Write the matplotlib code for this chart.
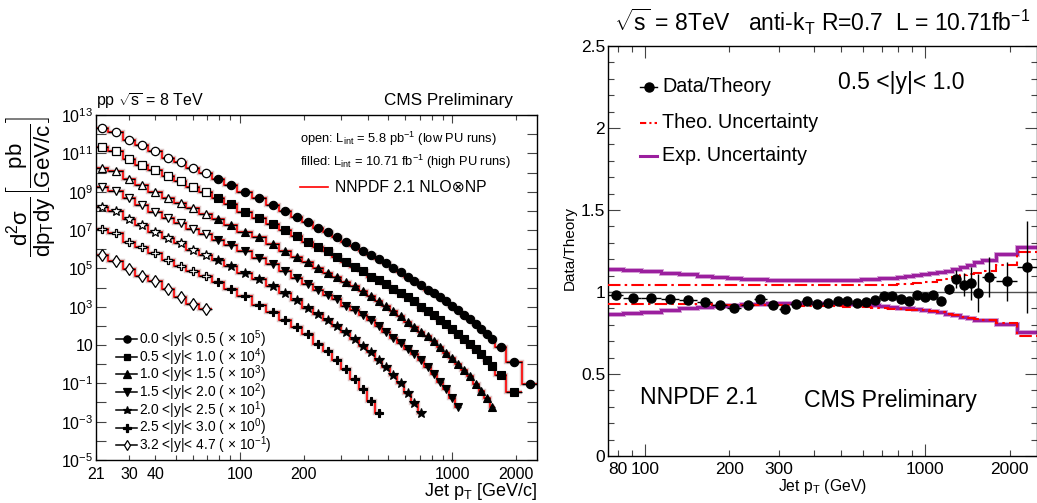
import numpy as np
import matplotlib
matplotlib.use("Agg")
import matplotlib.pyplot as plt
from matplotlib.ticker import FixedLocator, FuncFormatter
from matplotlib.lines import Line2D

plt.rcParams['font.family'] = ['Liberation Sans', 'DejaVu Sans']
plt.rcParams['mathtext.fontset'] = 'custom'
plt.rcParams['mathtext.rm'] = 'Liberation Sans'
plt.rcParams['mathtext.it'] = 'Liberation Sans'
plt.rcParams['mathtext.sf'] = 'Liberation Sans'
plt.rcParams['mathtext.bf'] = 'Liberation Sans:bold'
plt.rcParams['mathtext.default'] = 'regular'

# ---------------- data: left panel (cross sections, pb/(GeV/c), unscaled) ----------------
pt_edges_low = [21, 24, 28, 32, 37, 43, 49, 56, 64, 74]
pt_edges_high = [74, 84, 97, 114, 133, 153, 174, 196, 220, 245, 272, 300, 330, 362, 395, 430,
                 468, 507, 548, 592, 638, 686, 737, 790, 846, 905, 967, 1032, 1101, 1172, 1248,
                 1327, 1410, 1497, 1588, 1784, 2116, 2500]

rap_labels = ["0.0 <|y|< 0.5", "0.5 <|y|< 1.0", "1.0 <|y|< 1.5", "1.5 <|y|< 2.0",
              "2.0 <|y|< 2.5", "2.5 <|y|< 3.0", "3.2 <|y|< 4.7"]
scale_exp = [5, 4, 3, 2, 1, 0, -1]

open_y00 = [2.19e7, 1.26e7, 5.25e6, 2.88e6, 1.29e6, 5.89e5, 3.47e5, 1.78e5, 8.91e4]
open_y05 = [2.19e7, 1.29e7, 4.79e6, 2.40e6, 1.29e6, 6.46e5, 3.55e5, 1.82e5, 9.55e4]
open_y10 = [1.78e7, 1.20e7, 4.37e6, 2.24e6, 1.0e6, 4.90e5, 2.69e5, 1.35e5, 6.61e4]
open_y15 = [1.82e7, 1.10e7, 4.47e6, 2.04e6, 9.12e5, 4.47e5, 2.19e5, 1.10e5, 6.03e4]
open_y20 = [1.62e7, 1.0e7, 3.63e6, 1.86e6, 8.32e5, 3.72e5, 2.0e5, 8.91e4, 5.13e4]
open_y25 = [1.10e7, 6.61e6, 2.51e6, 1.23e6, 6.03e5, 2.69e5, 1.38e5, 7.59e4, 3.80e4]
open_y32 = [5.01e6, 2.29e6, 9.12e5, 4.17e5, 2.09e5, 8.32e4, 3.39e4, 1.41e4, 7.76e3]

filled_y00 = [4.73e4, 2.24e4, 1.0e4, 4.47e3, 2.04e3, 1.0e3, 501, 269, 135, 74.1, 40.7, 25.1, 13.8,
              8.13, 4.90, 2.95, 1.82, 1.05, 0.617, 0.372, 0.229, 0.141, 0.0776, 0.0525, 0.0309,
              0.0195, 0.0115, 6.61e-3, 3.89e-3, 2.24e-3, 1.29e-3, 6.76e-4, 3.89e-4, 2.0e-4,
              7.94e-5, 1.32e-5, 8.71e-7]
filled_y05 = [4.90e4, 2.19e4, 9.12e3, 4.47e3, 2.0e3, 977, 501, 224, 135, 75.9, 37.2, 20.4, 11.2,
              6.92, 3.72, 2.40, 1.51, 0.871, 0.501, 0.331, 0.195, 0.102, 0.0589, 0.0347, 0.0191,
              0.0120, 7.08e-3, 3.89e-3, 2.0e-3, 1.17e-3, 6.46e-4, 3.31e-4, 1.62e-4, 8.13e-5,
              2.69e-5, 3.63e-6]
filled_y10 = [3.98e4, 1.86e4, 8.32e3, 4.07e3, 1.82e3, 832, 407, 204, 100, 57.5, 33.9, 20.0, 12.0,
              6.76, 3.72, 2.04, 1.07, 0.589, 0.324, 0.166, 0.0871, 0.0479, 0.0282, 0.0155,
              7.94e-3, 3.98e-3, 2.19e-3, 1.07e-3, 5.25e-4, 2.34e-4, 9.12e-5, 3.89e-5, 1.62e-5,
              6.03e-6]
filled_y15 = [3.09e4, 1.70e4, 7.59e3, 3.47e3, 1.66e3, 759, 316, 151, 74.1, 42.7, 24.0, 11.5, 6.31,
              3.47, 2.0, 0.977, 0.479, 0.240, 0.126, 0.0646, 0.0331, 0.0162, 7.24e-3, 3.02e-3,
              1.20e-3, 4.79e-4, 1.82e-4, 6.03e-5]
filled_y20 = [2.63e4, 1.35e4, 5.50e3, 2.69e3, 1.15e3, 501, 219, 87.1, 42.7, 20.4, 9.33, 4.79, 2.14,
              0.891, 0.437, 0.174, 0.0724, 0.0269, 0.0107, 3.24e-3, 9.77e-4, 2.69e-4]
filled_y25 = [1.86e4, 8.32e3, 3.80e3, 1.29e3, 513, 204, 87.1, 35.5, 11.7, 4.90, 1.74, 0.589,
              0.178, 0.0537, 0.0123, 2.95e-3]
filled_y32 = []

open_series = [open_y00, open_y05, open_y10, open_y15, open_y20, open_y25, open_y32]
filled_series = [filled_y00, filled_y05, filled_y10, filled_y15, filled_y20, filled_y25, filled_y32]

# ---------------- data: right panel (0.5<|y|<1.0 data/theory) ----------------
ratio_edges = pt_edges_high
ratio = [0.98, 0.963, 0.963, 0.957, 0.949, 0.937, 0.923, 0.902, 0.923, 0.955,
         0.923, 0.896, 0.929, 0.945, 0.927, 0.935, 0.945, 0.945, 0.935, 0.937,
         0.949, 0.974, 0.974, 0.957, 0.945, 0.98, 0.972, 0.984, 0.947, 1.02,
         1.079, 1.045, 1.053, 0.994, 1.091, 1.065, 1.152]
ratio_err = [0.006, 0.006, 0.006, 0.006, 0.006, 0.006, 0.006, 0.006, 0.006, 0.006,
             0.007, 0.007, 0.007, 0.007, 0.007, 0.007, 0.007, 0.008, 0.008, 0.008,
             0.009, 0.009, 0.01, 0.01, 0.012, 0.013, 0.015, 0.017, 0.02, 0.03,
             0.055, 0.07, 0.10, 0.117, 0.12, 0.12, 0.28]
exp_up = [1.138, 1.135, 1.128, 1.118, 1.108, 1.100, 1.092, 1.086, 1.082, 1.077,
          1.074, 1.072, 1.071, 1.071, 1.071, 1.071, 1.072, 1.073, 1.075, 1.077,
          1.080, 1.083, 1.088, 1.092, 1.097, 1.102, 1.108, 1.114, 1.121, 1.130,
          1.140, 1.150, 1.165, 1.180, 1.193, 1.230, 1.276]
exp_dn = [0.868, 0.872, 0.880, 0.890, 0.900, 0.908, 0.915, 0.922, 0.926, 0.929,
          0.931, 0.933, 0.933, 0.933, 0.933, 0.932, 0.931, 0.929, 0.926, 0.924,
          0.920, 0.916, 0.910, 0.905, 0.900, 0.895, 0.890, 0.884, 0.877, 0.868,
          0.858, 0.850, 0.840, 0.830, 0.827, 0.803, 0.756]
theo_up = [1.045, 1.043, 1.042, 1.041, 1.040, 1.040, 1.040, 1.040, 1.040, 1.040,
           1.040, 1.040, 1.040, 1.040, 1.040, 1.040, 1.040, 1.040, 1.041, 1.041,
           1.042, 1.043, 1.045, 1.047, 1.050, 1.053, 1.058, 1.064, 1.072, 1.082,
           1.093, 1.103, 1.110, 1.118, 1.128, 1.163, 1.244]
theo_dn = [0.929, 0.928, 0.927, 0.926, 0.925, 0.924, 0.923, 0.922, 0.921, 0.920,
           0.919, 0.918, 0.917, 0.916, 0.915, 0.914, 0.913, 0.911, 0.909, 0.906,
           0.903, 0.900, 0.897, 0.895, 0.893, 0.891, 0.888, 0.883, 0.877, 0.868,
           0.858, 0.850, 0.843, 0.837, 0.830, 0.811, 0.732]

# ---------------- figure ----------------
W, H = 1037, 503
fig = plt.figure(figsize=(W / 100, H / 100), dpi=100)


def fx(px):
    return px / W


def fy(py):
    return 1 - py / H


axL = fig.add_axes([fx(96), fy(460), (537 - 96) / W, (460 - 115) / H])
axR = fig.add_axes([fx(608), fy(456), (1037 - 608) / W, (456 - 46) / H])

# ---------------- left panel ----------------
markers = ['o', 's', '^', 'v', '*', 'P', 'd']
msizes = [6.0, 5.4, 6.2, 6.2, 7.0, 6.0, 6.2]
red = '#ff0000'

for i in range(7):
    sc = 10.0 ** scale_exp[i]
    ov = np.array(open_series[i]) * sc
    fv = np.array(filled_series[i]) * sc
    e_o = np.array(pt_edges_low, dtype=float)
    e_f = np.array(pt_edges_high[:len(fv) + 1], dtype=float)
    allv = np.concatenate([ov, fv])
    alle = np.concatenate([e_o, e_f[1:]]) if len(fv) else e_o
    # theory step curve
    axL.stairs(allv, alle, baseline=None, color='#dcc8c8', lw=3.2, zorder=1)
    axL.stairs(allv, alle, baseline=None, color=red, lw=1.2, zorder=2)
    # open points
    c_o = 0.5 * (e_o[:-1] + e_o[1:])
    axL.hlines(ov, e_o[:-1], e_o[1:], color='black', lw=1.0, zorder=3)
    axL.plot(c_o, ov, ls='none', marker=markers[i], ms=msizes[i], mfc='white',
             mec='black', mew=0.9, zorder=4)
    if len(fv):
        c_f = 0.5 * (e_f[:-1] + e_f[1:])
        axL.hlines(fv, e_f[:-1], e_f[1:], color='black', lw=1.0, zorder=3)
        axL.plot(c_f, fv, ls='none', marker=markers[i], ms=msizes[i], mfc='black',
                 mec='black', mew=0.8, zorder=4)

axL.set_xscale('log')
axL.set_yscale('log')
axL.set_xlim(21, 2500)
axL.set_ylim(1e-5, 1e13)

axL.xaxis.set_major_locator(FixedLocator([100, 1000]))
axL.xaxis.set_minor_locator(FixedLocator([21, 30, 40, 50, 60, 70, 80, 90, 200, 300, 400, 500,
                                          600, 700, 800, 900, 2000]))
axL.xaxis.set_major_formatter(FuncFormatter(lambda v, p: '%d' % round(v)))
lab_minor_L = {21: '21', 30: '30', 40: '40', 200: '200', 2000: '2000'}
axL.xaxis.set_minor_formatter(FuncFormatter(lambda v, p: lab_minor_L.get(int(round(v)), '')))

ydec = list(range(-5, 14))
axL.yaxis.set_major_locator(FixedLocator([10.0 ** k for k in ydec]))
axL.yaxis.set_minor_locator(FixedLocator([]))


def yfmtL(v, p):
    k = int(round(np.log10(v)))
    if k % 2 == 0:
        return ''
    if k == 1:
        return '10'
    return r'$10^{%d}$' % k


axL.yaxis.set_major_formatter(FuncFormatter(yfmtL))
axL.tick_params(which='both', direction='in', top=True, right=True, labelsize=11.5,
                width=0.8, color='#444444')
axL.tick_params(axis='x', which='major', length=6, pad=5)
axL.tick_params(axis='x', which='minor', length=3.5, pad=5, labelsize=11.5)
axL.tick_params(axis='y', which='major', length=7, pad=2)
for sp in axL.spines.values():
    sp.set_linewidth(1.0)

# left texts
fig.text(fx(96), fy(101), r'pp $\sqrt{s}$ = 8 TeV', fontsize=11.5, ha='left', va='center')
fig.text(fx(513), fy(101), 'CMS Preliminary', fontsize=12.3, ha='right', va='center')
fig.text(fx(300), fy(139), r'open: L$_{\rm int}$ = 5.8 pb$^{-1}$ (low PU runs)',
         fontsize=9.3, ha='left', va='center')
fig.text(fx(300), fy(162), r'filled: L$_{\rm int}$ = 10.71 fb$^{-1}$ (high PU runs)',
         fontsize=9.3, ha='left', va='center')
fig.add_artist(Line2D([fx(300), fx(328)], [fy(187), fy(187)], color=red, lw=1.2))
fig.text(fx(335), fy(187), 'NNPDF 2.1 NLO\u2297NP', fontsize=11.3, ha='left', va='center',
         family=['Liberation Sans', 'DejaVu Sans'])

for i in range(7):
    yy = fy(339 + 17.7 * i)
    fig.add_artist(Line2D([fx(116), fx(137)], [yy, yy], color='black', lw=1.1))
    face = 'white' if i == 6 else 'black'
    fig.add_artist(Line2D([fx(126.5)], [yy], ls='none', marker=markers[i], ms=msizes[i] - 0.8,
                          mfc=face, mec='black', mew=0.9))
    fig.text(fx(139), yy, r'%s ( $\times$ 10$^{%d}$)' % (rap_labels[i], scale_exp[i]),
             fontsize=9.9, ha='left', va='center')

fig.text(fx(537), fy(491), r'Jet p$_{T}$ [GeV/c]', fontsize=13, ha='right', va='center')
fig.text(fx(31), fy(187), r'$\dfrac{d^{2}\sigma}{dp_{T}dy}\left[\dfrac{pb}{GeV/c}\right]$',
         fontsize=16, rotation=90, ha='center', va='center')

# ---------------- right panel ----------------
purple = '#9b1f9e'
re = np.array(ratio_edges, dtype=float)
rc = 0.5 * (re[:-1] + re[1:])
axR.stairs(exp_up, re, baseline=None, color='#d7a6d8', lw=3.6, zorder=1)
axR.stairs(exp_dn, re, baseline=None, color='#d7a6d8', lw=3.6, zorder=1)
axR.stairs(exp_up, re, baseline=None, color=purple, lw=2.2, zorder=2)
axR.stairs(exp_dn, re, baseline=None, color=purple, lw=2.2, zorder=2)
dd = (0, (6, 2, 1.2, 2))
axR.stairs(theo_up, re, baseline=None, color=red, lw=1.5, ls=dd, zorder=3)
axR.stairs(theo_dn, re, baseline=None, color=red, lw=1.5, ls=dd, zorder=3)
axR.axhline(1.0, color='#505050', lw=1.0, zorder=2.5)
axR.errorbar(rc, ratio, xerr=[rc - re[:-1], re[1:] - rc], yerr=ratio_err, fmt='o',
             color='black', ms=6.5, elinewidth=1.0, capsize=0, zorder=5)

axR.set_xscale('log')
axR.set_xlim(74, 2500)
axR.set_ylim(0, 2.5)
axR.xaxis.set_major_locator(FixedLocator([100, 1000]))
axR.xaxis.set_minor_locator(FixedLocator([80, 90, 200, 300, 400, 500, 600, 700, 800, 900, 2000]))
axR.xaxis.set_major_formatter(FuncFormatter(lambda v, p: '%d' % round(v)))
lab_minor_R = {80: '80', 200: '200', 300: '300', 2000: '2000'}
axR.xaxis.set_minor_formatter(FuncFormatter(lambda v, p: lab_minor_R.get(int(round(v)), '')))
axR.yaxis.set_major_locator(FixedLocator([0, 0.5, 1.0, 1.5, 2.0, 2.5]))
axR.yaxis.set_minor_locator(FixedLocator(list(np.arange(0.1, 2.5, 0.1))))
axR.yaxis.set_major_formatter(FuncFormatter(lambda v, p: ('%g' % v)))
axR.tick_params(which='both', direction='in', top=True, right=True, labelsize=12.5,
                width=0.8, color='#444444')
axR.tick_params(axis='x', which='major', length=8.5, pad=4)
axR.tick_params(axis='x', which='minor', length=4.5, pad=4, labelsize=12.5)
axR.tick_params(axis='y', which='major', length=8.5, pad=2)
axR.tick_params(axis='y', which='minor', length=4, pad=2)
for sp in axR.spines.values():
    sp.set_linewidth(1.0)

fig.text(fx(822), fy(22), r'$\sqrt{s}$ = 8TeV   anti-k$_{T}$ R=0.7  L = 10.71fb$^{-1}$',
         fontsize=16.5, ha='center', va='center')
fig.text(fx(838), fy(83), '0.5 <|y|< 1.0', fontsize=16.5, ha='left', va='center')
# legend
yl = [87, 122.5, 155.5]
fig.add_artist(Line2D([fx(640), fx(657)], [fy(yl[0])] * 2, color='black', lw=1.0))
fig.add_artist(Line2D([fx(648.5)], [fy(yl[0])], ls='none', marker='o', ms=6.5, color='black'))
fig.add_artist(Line2D([fx(640), fx(657)], [fy(yl[1])] * 2, color=red, lw=1.5,
                      ls=(0, (3, 1.5, 1, 1.5))))
fig.add_artist(Line2D([fx(640), fx(657)], [fy(yl[2])] * 2, color=purple, lw=2.2))
fig.text(fx(662), fy(yl[0]), 'Data/Theory', fontsize=14.2, ha='left', va='center')
fig.text(fx(662), fy(yl[1]), 'Theo. Uncertainty', fontsize=14.2, ha='left', va='center')
fig.text(fx(662), fy(yl[2]), 'Exp. Uncertainty', fontsize=14.2, ha='left', va='center')
fig.text(fx(640), fy(397), 'NNPDF 2.1', fontsize=16.7, ha='left', va='center')
fig.text(fx(804), fy(400), 'CMS Preliminary', fontsize=16.7, ha='left', va='center')
fig.text(fx(822), fy(487), r'Jet p$_{T}$ (GeV)', fontsize=11.3, ha='center', va='center')
fig.text(fx(570), fy(248), 'Data/Theory', fontsize=11, rotation=90, ha='center', va='center')

fig.savefig('out.png', dpi=100)
